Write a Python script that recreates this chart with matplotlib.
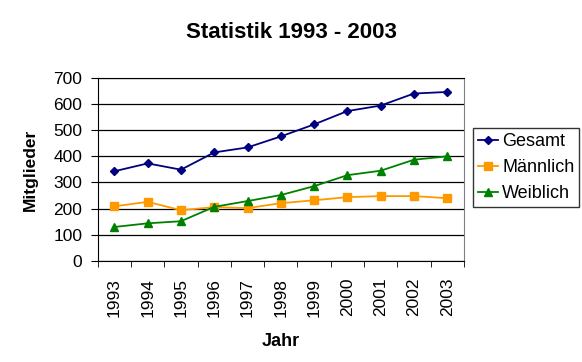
import matplotlib
matplotlib.use('Agg')
import matplotlib.pyplot as plt
import numpy as np

plt.rcParams['font.family'] = ['Liberation Sans', 'DejaVu Sans']

# Daten
years = ['1993', '1994', '1995', '1996', '1997', '1998', '1999', '2000', '2001', '2002', '2003']
gesamt = [343, 373, 349, 415, 434, 476, 522, 573, 594, 640, 646]
maennlich = [209, 226, 194, 206, 202, 221, 232, 244, 248, 248, 240]
weiblich = [130, 144, 152, 207, 229, 252, 286, 328, 345, 387, 400]

fig = plt.figure(figsize=(5.82, 3.62), dpi=100)
ax = fig.add_axes([0.168, 0.279, 0.629, 0.506])

x = np.arange(len(years))
ax.plot(x, gesamt, color='#000080', marker='D', markersize=4.5, lw=1.3, label='Gesamt')
ax.plot(x, maennlich, color='#FF9900', marker='s', markersize=6, lw=1.3, label='Männlich')
ax.plot(x, weiblich, color='#008000', marker='^', markersize=6, lw=1.3, label='Weiblich')

ax.set_xlim(-0.5, len(years) - 0.5)
ax.set_ylim(0, 700)
ax.set_yticks(range(0, 701, 100))
ax.yaxis.grid(True, color='black', lw=0.9)
ax.set_axisbelow(True)

ax.set_xticks(x)
ax.set_xticklabels(years, rotation=90, fontsize=12.5)
ax.set_xticks(np.arange(-0.5, len(years), 1), minor=True)
ax.tick_params(axis='x', which='major', length=0, pad=12)
ax.tick_params(axis='x', which='minor', length=4.5, direction='out')
ax.tick_params(axis='y', labelsize=12.5, length=5, pad=6)

ax.spines['right'].set_color('#808080')
ax.spines['top'].set_color('black')

fig.text(0.5, 1 - 38 / 362, 'Statistik 1993 - 2003', fontsize=16, fontweight='bold',
         ha='center', va='baseline')
ax.set_xlabel('Jahr', fontsize=13, fontweight='bold', labelpad=12)
ax.set_ylabel('Mitglieder', fontsize=12.5, fontweight='bold', labelpad=11)

leg = ax.legend(loc='center left', bbox_to_anchor=(1.025, 0.51), fontsize=13,
                frameon=True, fancybox=False, edgecolor='black', handlelength=1.13,
                borderpad=0.28, labelspacing=0.5, handletextpad=0.2, borderaxespad=0)
leg.get_frame().set_linewidth(1)

fig.savefig('out.png', dpi=100)
